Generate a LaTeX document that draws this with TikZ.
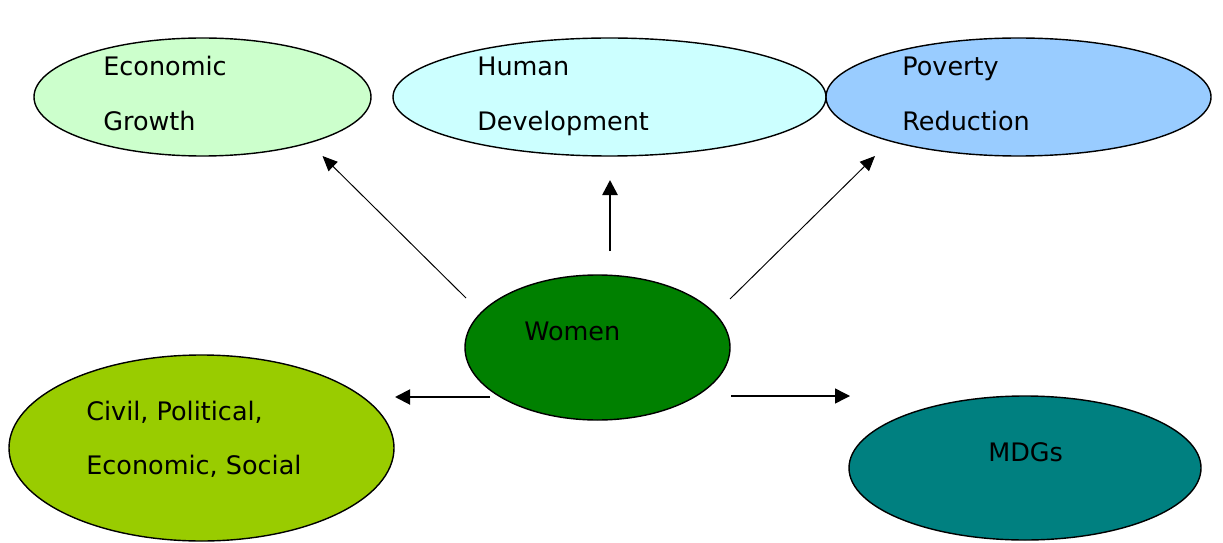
\documentclass[tikz,border=0pt]{standalone}
\usepackage{fontspec}
\setmainfont{DejaVu Sans}
\usetikzlibrary{shapes.geometric, arrows.meta}
\definecolor{egfill}{HTML}{CCFFCC}
\definecolor{hdfill}{HTML}{CCFFFF}
\definecolor{prfill}{HTML}{99CCFF}
\definecolor{wofill}{HTML}{008000}
\definecolor{cpfill}{HTML}{99CC00}
\definecolor{mdfill}{HTML}{008080}
\tikzstyle{goal} = [ellipse, draw=black, line width=0.8pt, inner sep=0pt]
\tikzstyle{lbl} = [anchor=base west, inner sep=0pt, font=\fontsize{14.5}{17}\selectfont]
\tikzstyle{thin} = [line width=0.55pt, -{Triangle[length=0.3cm, width=0.26cm]}]
\tikzstyle{thick} = [line width=1.1pt, -{Triangle[length=0.3cm, width=0.3cm]}]

\begin{document}
\begin{tikzpicture}
        \useasboundingbox (0,0) rectangle (24.46,-10.86);
        \node [goal, fill=egfill, minimum width=6.74cm, minimum height=2.36cm] at (4.05,-1.94) (eg) {};
        \node [goal, fill=hdfill, minimum width=8.66cm, minimum height=2.36cm] at (12.19,-1.94) (hd) {};
        \node [goal, fill=prfill, minimum width=7.7cm, minimum height=2.36cm] at (20.37,-1.94) (pr) {};
        \node [goal, fill=wofill, minimum width=5.3cm, minimum height=2.9cm] at (11.95,-6.95) (wo) {};
        \node [goal, fill=cpfill, minimum width=7.7cm, minimum height=3.72cm] at (4.03,-8.96) (cp) {};
        \node [goal, fill=mdfill, minimum width=7.04cm, minimum height=2.88cm] at (20.5,-9.36) (md) {};
        \node [lbl] at (2.06,-1.52) (egtop) {Economic};
        \node [lbl] at (2.06,-2.62) (egbot) {Growth};
        \node [lbl] at (9.54,-1.52) (hdtop) {Human};
        \node [lbl] at (9.54,-2.62) (hdbot) {Development};
        \node [lbl] at (18.04,-1.52) (prtop) {Poverty};
        \node [lbl] at (18.04,-2.62) (prbot) {Reduction};
        \node [lbl] at (10.48,-6.8) (wotxt) {Women};
        \node [lbl] at (1.72,-8.4) (cptop) {Civil, Political,};
        \node [lbl] at (1.72,-9.48) (cpbot) {Economic, Social};
        \node [lbl] at (19.76,-9.22) (mdtxt) {MDGs};
        \coordinate (ul) at (9.32,-5.96);
        \coordinate (uc) at (12.2,-5.02);
        \coordinate (ur) at (14.6,-5.98);
        \coordinate (ml) at (9.8,-7.94);
        \coordinate (mr) at (14.62,-7.92);
        \coordinate (egin) at (6.45,-3.12);
        \coordinate (hdin) at (12.2,-3.6);
        \coordinate (prin) at (17.5,-3.12);
        \coordinate (cpin) at (7.9,-7.94);
        \coordinate (mdin) at (17.0,-7.92);
        \draw [thin] (ul) -- (egin);
        \draw [thick, line width=1.5pt] (uc) -- (hdin);
        \draw [thin] (ur) -- (prin);
        \draw [thick] (ml) -- (cpin);
        \draw [thick, line width=0.8pt] (mr) -- (mdin);
\end{tikzpicture}
\end{document}
